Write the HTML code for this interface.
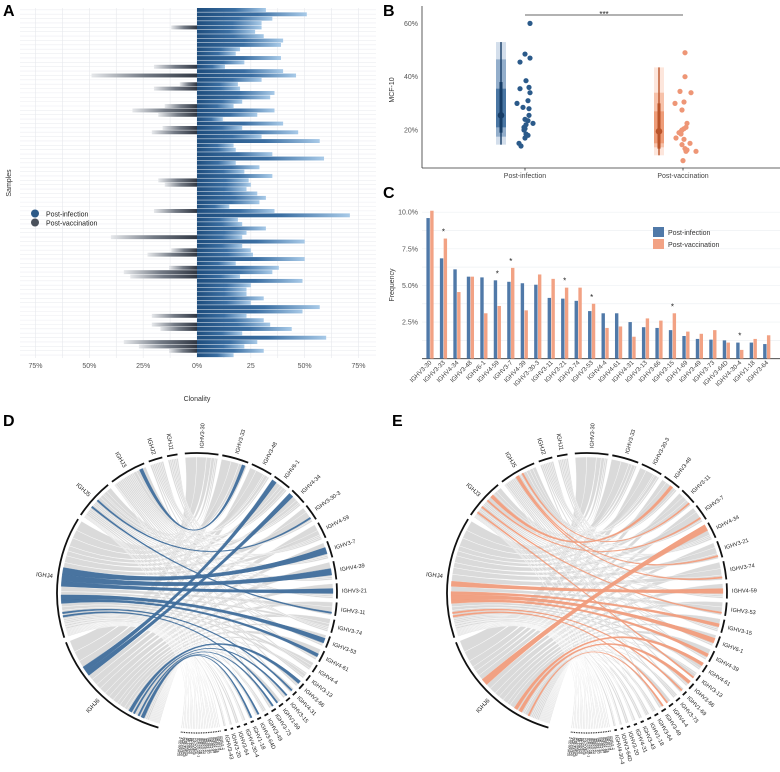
<!DOCTYPE html>
<html><head><meta charset="utf-8"><style>
body{margin:0;background:#fff;}
svg{display:block;font-family:"Liberation Sans",Arial,sans-serif;}
</style></head><body>
<svg id="fig" width="780" height="772" viewBox="0 0 780 772" xmlns="http://www.w3.org/2000/svg">
<defs>
<linearGradient id="gR" x1="0" x2="1" y1="0" y2="0"><stop offset="0" stop-color="#1e4d7d"/><stop offset="0.55" stop-color="#3a6ea2"/><stop offset="1" stop-color="#a8cae8"/></linearGradient>
<linearGradient id="gL" x1="0" x2="1" y1="0" y2="0"><stop offset="0" stop-color="#e6e8eb"/><stop offset="0.5" stop-color="#737a85"/><stop offset="1" stop-color="#303743"/></linearGradient>
</defs>
<g font-weight="bold" font-size="16" fill="#000">
<text x="3" y="16">A</text>
<text x="383" y="16">B</text>
<text x="383" y="198">C</text>
<text x="3" y="426">D</text>
<text x="392" y="426">E</text>
</g>
<g id="pa"></g>
<g id="pb"></g>
<g id="pc"></g>
<g id="pd"></g>
<g id="pe"></g>
</svg>
<script>
const NS="http://www.w3.org/2000/svg";
function mk(p,tag,attrs,txt){const e=document.createElementNS(NS,tag);for(const k in attrs)e.setAttribute(k,attrs[k]);if(txt!==undefined)e.textContent=txt;p.appendChild(e);return e;}

// ---------- Panel A data ----------
const aRightVals=[32,51,35,30,30,27,31,40,39,20,18,39,22,13,40,46,30,19,20,36,34,21,17,36,28,12,40,21,47,30,57,17,18,35,59,18,29,22,35,24,25,23,28,32,29,15,36,71,19,21,32,23,21,50,21,25,26,50,18,38,35,20,49,25,23,23,31,25,57,49,23,31,34,44,21,60,28,22,31,17];
const aLeftVals=[0,0,0,0,12,0,0,0,0,0, 0,0,0,20,0,49,0,8,20,0, 0,0,15,30,18,0,0,16,21,0, 0,0,0,0,0,0,0,0,0,18, 15,0,0,0,0,0,20,0,0,0, 0,0,40,0,0,12,23,0,0,13, 34,31,0,0,0,0,0,0,0,0, 21,0,21,17,0,0,34,27,13,0];
const aTicks=[-75,-50,-25,0,25,50,75];
const aTickLabels=["75%","50%","25%","0%","25","50%","75%"];
(function(){
const g=document.getElementById('pa');
const x0=197, k=2.153;
const xA=v=>x0+v*k;
const rowY=i=>8+i*4.37;
for(let i=0;i<aRightVals.length;i++){
  const l=mk(g,'line',{x1:20,x2:376,y1:rowY(i)+1.85,y2:rowY(i)+1.85,stroke:'#eceef1','stroke-width':0.6});
  
  
}
for(let v=-75;v<=75;v+=12.5){
  const l=mk(g,'line',{x1:xA(v),x2:xA(v),y1:8,y2:358,stroke:'#e6e8ec','stroke-width':0.6});
  
  
}
aRightVals.forEach((v,i)=>{
  const r=mk(g,'rect',{x:x0,y:rowY(i),width:v*k,height:3.9,fill:'url(#gR)'});
  
  
});
aLeftVals.forEach((v,i)=>{ if(!v)return;
  const r=mk(g,'rect',{x:xA(-v),y:rowY(i),width:v*k,height:3.9,fill:'url(#gL)'});
  
  
});
aTicks.forEach((t,i)=>{
  const e=mk(g,'text',{x:xA(t),y:368,'font-size':7,fill:'#555','text-anchor':'middle'},aTickLabels[i]);
  
  
});
let e=mk(g,'text',{x:197,y:401,'font-size':7,fill:'#333','text-anchor':'middle'},'Clonality');

e=mk(g,'text',{x:11,y:183,'font-size':7,fill:'#333','text-anchor':'middle',transform:'rotate(-90 11 183)'},'Samples');

const lg=mk(g,'g',{});
mk(lg,'circle',{cx:35,cy:213.5,r:4,fill:'#2c5a88'});
mk(lg,'text',{x:46,y:216.5,'font-size':7,fill:'#222'},'Post-infection');
mk(lg,'circle',{cx:35,cy:222.5,r:4,fill:'#4a515c'});
mk(lg,'text',{x:46,y:225.5,'font-size':7,fill:'#222'},'Post-vaccination');
})();

// ---------- Panel B data ----------
const bInfVals=[60,48.5,47,45.5,38.5,36,35.5,34,31,30,28.5,28,25.5,24,23.5,22.5,22,21,20.5,20,18.5,18,17,15,14];
const bInfJitter=[5,0,5,-5,1,4,-5,5,3,-8,-2,4,4,0,3,8,1,-1,0,-1,1,3,0,-6,-4];
const bVacVals=[49,40,34.5,34,30.5,30,27.5,22.5,21,20.5,20,19.5,19,18.5,17,16.5,15,14.5,13,12.5,12,12,8.5];
const bVacJitter=[2,2,-3,8,1,-8,-1,4,3,1,-1,-2,-4,-2,-7,1,7,-1,2,4,3,13,0];
const bInfInterval={median:25.5,lo:14.5,hi:53,q1:21,q3:35.5,m1:17.5,m2:46.5,t1:19,t2:38};
const bVacInterval={median:19.5,lo:10.5,hi:43.5,q1:15,q3:27,m1:13.5,m2:34,t1:13,t2:30};
const bTicks=[20,40,60];
(function(){
const g=document.getElementById('pb');
const yB=v=>183.3-v*2.665;
mk(g,'line',{x1:422,x2:780,y1:168,y2:168,stroke:'#333','stroke-width':0.8});
mk(g,'line',{x1:422,x2:422,y1:6,y2:168,stroke:'#333','stroke-width':0.8});
bTicks.forEach(t=>{const e=mk(g,'text',{x:418,y:yB(t)+2.5,'font-size':7,fill:'#555','text-anchor':'end'},t+'%');
});
let e=mk(g,'text',{x:394,y:90,'font-size':7,fill:'#333','text-anchor':'middle',transform:'rotate(-90 394 90)'},'MCF-10');

[['Post-infection',525],['Post-vaccination',683]].forEach(([n,x])=>{
  mk(g,'line',{x1:x,x2:x,y1:168,y2:170.5,stroke:'#333','stroke-width':0.8});
  const t=mk(g,'text',{x:x,y:178,'font-size':7,fill:'#444','text-anchor':'middle'},n);
  
});
function interval(x,iv,c){
  const ig=mk(g,'g',{});
  
  
  mk(ig,'rect',{x:x-5,y:yB(iv.hi),width:10,height:yB(iv.lo)-yB(iv.hi),fill:c[0]});
  mk(ig,'rect',{x:x-5,y:yB(iv.m2),width:10,height:yB(iv.m1)-yB(iv.m2),fill:c[1]});
  mk(ig,'rect',{x:x-5,y:yB(iv.q3),width:10,height:yB(iv.q1)-yB(iv.q3),fill:c[2]});
  mk(ig,'line',{x1:x,x2:x,y1:yB(iv.hi),y2:yB(iv.lo),stroke:c[3],'stroke-width':1.4});
  mk(ig,'line',{x1:x,x2:x,y1:yB(iv.t2),y2:yB(iv.t1),stroke:c[3],'stroke-width':3});
  mk(ig,'circle',{cx:x,cy:yB(iv.median),r:3.3,fill:c[3]});
}
interval(501,bInfInterval,['#d3deeb','#93aecb','#4a76a3','#173d66']);
interval(659,bVacInterval,['#fde6dc','#f7c2aa','#ee9c78','#b9542a']);
bInfVals.forEach((v,i)=>{const c=mk(g,'circle',{cx:525+bInfJitter[i],cy:yB(v),r:2.6,fill:'#2b5a8a'});
});
bVacVals.forEach((v,i)=>{const c=mk(g,'circle',{cx:683+bVacJitter[i],cy:yB(v),r:2.6,fill:'#ee9676'});
});
mk(g,'line',{x1:525,x2:683,y1:15,y2:15,stroke:'#333','stroke-width':0.8});
e=mk(g,'text',{x:604,y:17,'font-size':8,fill:'#222','text-anchor':'middle'},'***');

})();

// ---------- Panel C data ----------
const cGenes=["IGHV3-30","IGHV3-33","IGHV4-34","IGHV3-48","IGHV6-1","IGHV4-59","IGHV3-7","IGHV4-39","IGHV3-30-3","IGHV3-11","IGHV3-21","IGHV3-74","IGHV3-53","IGHV4-4","IGHV4-61","IGHV4-31","IGHV3-13","IGHV3-66","IGHV3-15","IGHV1-69","IGHV3-49","IGHV3-73","IGHV3-64D","IGHV4-30-4","IGHV1-18","IGHV3-64"];
const cInf=[9.6,6.85,6.1,5.6,5.55,5.35,5.25,5.15,5.05,4.15,4.1,3.95,3.25,3.1,3.1,2.5,2.15,2.1,1.95,1.55,1.35,1.3,1.25,1.1,1.1,1.0];
const cVac=[10.1,8.2,4.55,5.6,3.1,3.6,6.2,3.3,5.75,5.45,4.85,4.85,3.75,2.1,2.2,1.5,2.75,2.6,3.1,1.85,1.7,1.95,1.1,0.6,1.35,1.6];
const cStars=[1,5,6,10,12,18,23];
const cTicks=[2.5,5,7.5,10];
const cTickLabels=["2.5%","5.0%","7.5%","10.0%"];
(function(){
const g=document.getElementById('pc');
const yC=v=>358.7-v*14.65;
const xC=i=>430+i*13.47;
for(let v=1.25;v<=10.1;v+=1.25){mk(g,'line',{x1:422,x2:780,y1:yC(v),y2:yC(v),stroke:'#eef0f3','stroke-width':0.7});}
cTicks.forEach((t,i)=>{const e=mk(g,'text',{x:418,y:yC(t)+2.5,'font-size':7,fill:'#555','text-anchor':'end'},cTickLabels[i]);
});
mk(g,'line',{x1:422,x2:780,y1:358.7,y2:358.7,stroke:'#333','stroke-width':0.8});
let e=mk(g,'text',{x:394,y:285,'font-size':7,fill:'#333','text-anchor':'middle',transform:'rotate(-90 394 285)'},'Frequency');

cGenes.forEach((n,i)=>{
  const b1=mk(g,'rect',{x:xC(i)-3.6,y:yC(cInf[i]),width:3.4,height:cInf[i]*14.65,fill:'#5079a8'});
  
  const b2=mk(g,'rect',{x:xC(i)+0.2,y:yC(cVac[i]),width:3.4,height:cVac[i]*14.65,fill:'#f2a284'});
  
  const t=mk(g,'text',{x:xC(i)+2,y:363,'font-size':6.3,fill:'#444','text-anchor':'end',transform:`rotate(-45 ${xC(i)+2} 363)`},n);
  
});
cStars.forEach(i=>{const s=mk(g,'text',{x:xC(i),y:yC(Math.max(cInf[i],cVac[i]))-4,'font-size':8,fill:'#222','text-anchor':'middle'},'*');
});
const lg=mk(g,'g',{});
mk(lg,'rect',{x:653,y:227,width:11,height:10,fill:'#5079a8'});
mk(lg,'text',{x:668,y:235,'font-size':7,fill:'#333'},'Post-infection');
mk(lg,'rect',{x:653,y:239,width:11,height:10,fill:'#f2a284'});
mk(lg,'text',{x:668,y:247,'font-size':7,fill:'#333'},'Post-vaccination');
})();

// ---------- Chord data ----------
const dVNames=["IGHV3-30","IGHV3-33","IGHV3-48","IGHV6-1","IGHV4-34","IGHV3-30-3","IGHV4-59","IGHV3-7","IGHV4-39","IGHV3-21","IGHV3-11","IGHV3-74","IGHV3-53","IGHV4-61","IGHV4-4","IGHV3-13","IGHV3-66","IGHV4-31","IGHV3-15","IGHV1-69","IGHV3-73","IGHV3-49","IGHV3-64D","IGHV1-18","IGHV4-30-4","IGHV3-64","IGHV3-20","IGHV3-43"];
const eVNames=["IGHV3-30","IGHV3-33","IGHV3-30-3","IGHV3-48","IGHV3-11","IGHV3-7","IGHV4-34","IGHV3-21","IGHV3-74","IGHV4-59","IGHV3-53","IGHV3-15","IGHV6-1","IGHV4-39","IGHV4-61","IGHV3-13","IGHV3-66","IGHV1-69","IGHV3-73","IGHV4-4","IGHV3-49","IGHV3-64","IGHV1-18","IGHV3-43","IGHV4-31","IGHV3-20","IGHV3-64D","IGHV4-30-4"];
const chordMatrix=[[7,6,3,2,1,1],[6,5,2,2,1,0],[4,5,1,2,0,1],[3,3,2,2,1,0],[3,3,2,1,0,1],[3,4,1,1,1,0],[4,3,1,1,0,1],[3,4,1,1,1,0],[4,4,1,1,0,1],[3,3,1,1,1,0],[3,3,1,1,0,0],[3,2,1,1,0,1],[2,3,1,1,0,0],[3,2,1,0,1,0],[2,2,0,1,0,0],[1,2,1,0,0,0],[2,1,0,1,0,0],[1,1,0,1,0,0],[1,1,1,0,0,0],[2,1,0,0,0,0],[1,1,0,0,1,0],[1,1,0.5,0,0,0],[1,1,0,0.5,0,0],[1,1,0,0,0,0],[1,0.5,0.5,0,0,0],[1,1,0,0,0,0],[1,0.5,0,0,0,0],[0.5,1,0,0,0,0]];
const tinyNames=["IGHV1-2","IGHV1-3","IGHV1-8","IGHV1-24","IGHV1-46","IGHV1-58","IGHV2-5","IGHV2-26","IGHV2-70","IGHV3-9","IGHV3-23","IGHV3-72","IGHV4-28","IGHV5-10-1","IGHV5-51","IGHV7-4-1","IGHV3-35","IGHV3-38","IGHV1-45","IGHV2-70D","IGHV4-38-2","IGHV3-43D","IGHV3-NL1","IGHV4-30-2"];
const tinyJ=[0,1,0,1,0,1,2,0,1,0,3,1,0,1,0,0,1,2,0,1,0,1,0,0];
const dJNames=["IGHJ6","IGHJ4","IGHJ5","IGHJ3","IGHJ2","IGHJ1"];
const eJNames=["IGHJ6","IGHJ4","IGHJ3","IGHJ5","IGHJ2","IGHJ1"];
const dHighlights=[[3,0],[4,0],[7,1],[8,1],[9,1],[12,1],[13,1],[5,2],[1,3],[16,0],[17,1],[19,1],[20,0],[15,3],[18,0],[10,2],[22,0],[23,0]];
const eHighlights=[[6,0],[9,1],[11,1],[12,1],[13,1],[17,1],[14,0],[3,2],[5,2],[8,3],[10,2],[16,0],[19,1],[7,3],[15,2],[20,0],[4,3]];

function drawChord(gid,cx,cy,r,vNames,jNames,highlights,hiColor){
  const g=document.getElementById(gid);
  const P=(rr,a)=>{const t=a*Math.PI/180;return [cx+rr*Math.sin(t),cy-rr*Math.cos(t)];};
  const items=[];
  vNames.forEach((n,i)=>items.push({name:n,w:chordMatrix[i],tiny:false,idx:i}));
  tinyNames.forEach((n,i)=>{const w=[0,0,0,0,0,0];w[tinyJ[i]]=0.5;items.push({name:n,w:w,tiny:true,idx:vNames.length+i});});
  const vStart=355,vEnd=547;
  let gaps=0,tot=0;items.forEach(it=>{tot+=it.w.reduce((a,b)=>a+b,0);gaps+=it.tiny?0.35:1.6;});
  const vs=(vEnd-vStart-gaps)/tot;
  let a=vStart;
  items.forEach(it=>{const s=it.w.reduce((x,y)=>x+y,0);it.a0=a;it.a1=a+s*vs;it.sub=[];let q=a;it.w.forEach((w,j)=>{it.sub[j]=[q,q+w*vs];q+=w*vs;});a=it.a1+(it.tiny?0.35:1.6);});
  const jStart=196,jEnd=352,jGap=2;
  const colSum=jNames.map((_,j)=>items.reduce((s,it)=>s+it.w[j],0));
  const totJ=colSum.reduce((x,y)=>x+y,0);
  const js=(jEnd-jStart-jGap*(jNames.length-1))/totJ;
  const jArcs=[];let b=jStart;
  jNames.forEach((n,j)=>{jArcs.push([b,b+colSum[j]*js]);b+=colSum[j]*js+jGap;});
  const jCursor=jArcs.map(x=>x[1]);
  const hiSet=new Set(highlights.map(h=>h[0]+'_'+h[1]));
  const ribbons=[];
  items.forEach(it=>{it.w.forEach((w,j)=>{if(!w)return;
    const bw=w*js;const b1=jCursor[j];const b0=b1-bw;jCursor[j]=b0;
    ribbons.push({s:it.sub[j],t:[b0,b1],hi:hiSet.has(it.idx+'_'+j)});});});
  const rr=r-1;
  function rib(rb){
    const p0=P(rr,rb.s[0]),p1=P(rr,rb.s[1]),q0=P(rr,rb.t[0]),q1=P(rr,rb.t[1]);
    const la1=(rb.s[1]-rb.s[0])>180?1:0,la2=(rb.t[1]-rb.t[0])>180?1:0;
    return `M${p0[0]},${p0[1]}A${rr},${rr} 0 ${la1} 1 ${p1[0]},${p1[1]}Q${cx},${cy} ${q0[0]},${q0[1]}A${rr},${rr} 0 ${la2} 1 ${q1[0]},${q1[1]}Q${cx},${cy} ${p0[0]},${p0[1]}Z`;
  }
  ribbons.filter(x=>!x.hi).forEach(rb=>{const p=mk(g,'path',{d:rib(rb),fill:'#d5d5d5','fill-opacity':0.88,stroke:'#fff','stroke-width':0.35});
    });
  ribbons.filter(x=>x.hi).forEach(rb=>{const p=mk(g,'path',{d:rib(rb),fill:hiColor,'fill-opacity':0.95,stroke:hiColor,'stroke-width':0.3});
    });
  function arc(a0,a1,w,name,tiny,fs){
    const p0=P(r+3,a0),p1=P(r+3,a1);
    const s=mk(g,'path',{d:`M${p0[0]},${p0[1]}A${r+3},${r+3} 0 ${(a1-a0)>180?1:0} 1 ${p1[0]},${p1[1]}`,fill:'none',stroke:'#111','stroke-width':w});
    
    const m=(a0+a1)/2, mm=((m%360)+360)%360;
    const lp=P(r+8,m);
    let rot,anc;
    if(mm<180){rot=mm-90;anc='start';}else{rot=mm-270;anc='end';}
    const t=mk(g,'text',{x:lp[0],y:lp[1]+(tiny?1:1.8),'font-size':fs,fill:'#222','text-anchor':anc,transform:`rotate(${rot} ${lp[0]} ${lp[1]})`},name);
    
  }
  items.forEach(it=>arc(it.a0,it.a1,it.tiny?1.2:1.8,it.name,it.tiny,it.tiny?3.6:5.6));
  jArcs.forEach((ja,j)=>arc(ja[0],ja[1],1.8,jNames[j],false,6));
}
drawChord('pd',197,593,137,dVNames,dJNames,dHighlights,'#3f6d9b');
drawChord('pe',587,593,137,eVNames,eJNames,eHighlights,'#f09c7c');
</script>
</body></html>
